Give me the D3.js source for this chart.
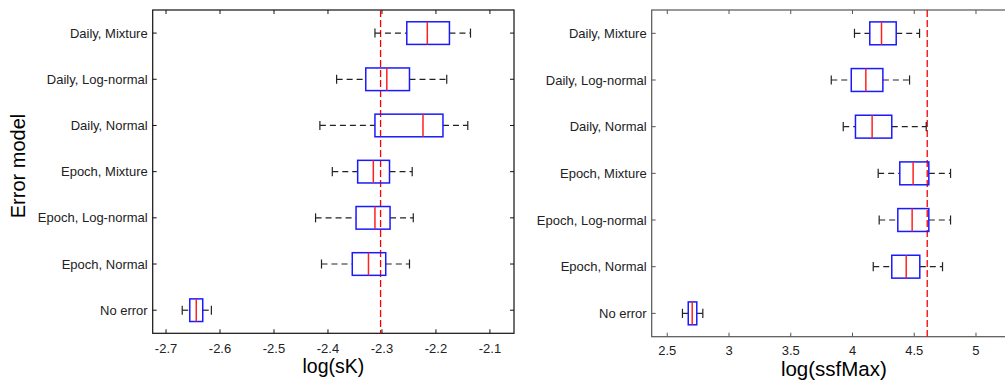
<!DOCTYPE html>
<html>
<head>
<meta charset="utf-8">
<script src="https://cdn.jsdelivr.net/npm/d3@7"></script>
<style>
  body { margin: 0; background: #fff; }
  text { font-family: "Liberation Sans", Arial, sans-serif; }
</style>
</head>
<body>
<script>
// DATA
var categories = ["Daily, Mixture", "Daily, Log-normal", "Daily, Normal",
  "Epoch, Mixture", "Epoch, Log-normal", "Epoch, Normal", "No error"];

// log(sK) box stats per category
var skLow    = [-2.313, -2.384, -2.415, -2.392, -2.423, -2.412, -2.670];
var skQ1     = [-2.254, -2.330, -2.313, -2.345, -2.348, -2.355, -2.656];
var skMedian = [-2.216, -2.291, -2.224, -2.316, -2.313, -2.325, -2.644];
var skQ3     = [-2.175, -2.249, -2.187, -2.286, -2.285, -2.293, -2.632];
var skHigh   = [-2.136, -2.180, -2.141, -2.244, -2.242, -2.249, -2.616];
var skTrue = Math.log(0.1);
var skTicks = [-2.7, -2.6, -2.5, -2.4, -2.3, -2.2, -2.1];

// log(ssfMax) box stats per category
var ssfLow    = [4.016, 3.828, 3.925, 4.208, 4.216, 4.168, 2.623];
var ssfQ1     = [4.140, 3.990, 4.024, 4.383, 4.367, 4.318, 2.670];
var ssfMedian = [4.235, 4.108, 4.159, 4.491, 4.483, 4.435, 2.702];
var ssfQ3     = [4.354, 4.246, 4.318, 4.618, 4.618, 4.545, 2.739];
var ssfHigh   = [4.543, 4.462, 4.597, 4.794, 4.794, 4.729, 2.788];
var ssfTrue = Math.log(100);
var ssfTicks = [2.5, 3, 3.5, 4, 4.5, 5];

var W = 1005, H = 382;
var svg = d3.select("body").append("svg")
  .attr("width", W).attr("height", H);

function fmt(v) {
  return String(+v.toFixed(2));
}

function panel(opt) {
  var x = d3.scaleLinear().domain(opt.domain).range([opt.left, opt.right]);
  var y = d3.scalePoint().domain(categories).range([opt.top, opt.bottom]).padding(0.5);
  var g = svg.append("g");
  var bh = y.step() * 0.49;

  // axis box
  g.append("rect")
    .attr("x", opt.left).attr("y", opt.top)
    .attr("width", opt.right - opt.left).attr("height", opt.bottom - opt.top)
    .attr("fill", "none").attr("stroke", opt.axisColor).attr("stroke-width", 1.2);

  // x ticks (inward, bottom and top)
  opt.ticks.forEach(function (t) {
    g.append("line").attr("x1", x(t)).attr("x2", x(t))
      .attr("y1", opt.bottom).attr("y2", opt.bottom - 4)
      .attr("stroke", opt.axisColor);
    g.append("line").attr("x1", x(t)).attr("x2", x(t))
      .attr("y1", opt.top).attr("y2", opt.top + 4)
      .attr("stroke", opt.axisColor);
    g.append("text").attr("x", x(t)).attr("y", opt.tickY)
      .attr("text-anchor", "middle").attr("font-size", 13).attr("fill", "#222")
      .text(fmt(t));
  });

  // y ticks and labels
  categories.forEach(function (c) {
    g.append("line").attr("x1", opt.left).attr("x2", opt.left + 4)
      .attr("y1", y(c)).attr("y2", y(c)).attr("stroke", opt.axisColor);
    g.append("line").attr("x1", opt.right).attr("x2", opt.right - 4)
      .attr("y1", y(c)).attr("y2", y(c)).attr("stroke", opt.axisColor);
    g.append("text").attr("x", opt.left - 5).attr("y", y(c)).attr("dy", "0.35em")
      .attr("text-anchor", "end").attr("font-size", 13).attr("fill", "#222")
      .text(c);
  });

  // reference line
  g.append("line").attr("x1", x(opt.ref)).attr("x2", x(opt.ref))
    .attr("y1", opt.top).attr("y2", opt.bottom)
    .attr("stroke", "#ff0000").attr("stroke-width", 1.3)
    .attr("stroke-dasharray", "7,3");

  // boxes
  categories.forEach(function (c, i) {
    var cy = y(c);
    var bx = g.append("g");
    // whiskers
    bx.append("line").attr("x1", x(opt.low[i])).attr("x2", x(opt.q1[i]))
      .attr("y1", cy).attr("y2", cy).attr("stroke", "#222").attr("stroke-width", 1.2)
      .attr("stroke-dasharray", "6,4");
    bx.append("line").attr("x1", x(opt.q3[i])).attr("x2", x(opt.high[i]))
      .attr("y1", cy).attr("y2", cy).attr("stroke", "#222").attr("stroke-width", 1.2)
      .attr("stroke-dasharray", "6,4");
    [opt.low[i], opt.high[i]].forEach(function (v) {
      bx.append("line").attr("x1", x(v)).attr("x2", x(v))
        .attr("y1", cy - bh * 0.2).attr("y2", cy + bh * 0.2)
        .attr("stroke", "#222").attr("stroke-width", 1.2);
    });
    bx.append("rect")
      .attr("x", x(opt.q1[i])).attr("y", cy - bh / 2)
      .attr("width", x(opt.q3[i]) - x(opt.q1[i])).attr("height", bh)
      .attr("fill", "none").attr("stroke", "#1a1aff").attr("stroke-width", 1.5);
    bx.append("line").attr("x1", x(opt.median[i])).attr("x2", x(opt.median[i]))
      .attr("y1", cy - bh / 2).attr("y2", cy + bh / 2)
      .attr("stroke", "#ff2020").attr("stroke-width", 1.5);
  });

  // x label
  g.append("text").attr("x", (opt.left + opt.right) / 2).attr("y", opt.labelY)
    .attr("text-anchor", "middle").attr("font-size", opt.labelSize).attr("fill", "#000")
    .text(opt.label);
}

panel({
  left: 152.7, right: 514, top: 10, bottom: 333.3,
  domain: [-2.7247, -2.0554], ticks: skTicks, ref: skTrue,
  low: skLow, q1: skQ1, median: skMedian, q3: skQ3, high: skHigh,
  axisColor: "#111", tickY: 353, labelY: 373, labelSize: 19.5, label: "log(sK)"
});

panel({
  left: 651.7, right: 1016, top: 10, bottom: 336.7,
  domain: [2.374, 5.324], ticks: ssfTicks, ref: ssfTrue,
  low: ssfLow, q1: ssfQ1, median: ssfMedian, q3: ssfQ3, high: ssfHigh,
  axisColor: "#555", tickY: 355, labelY: 376, labelSize: 20.5, label: "log(ssfMax)"
});

// y label
svg.append("text")
  .attr("transform", "translate(25,166) rotate(-90)")
  .attr("text-anchor", "middle").attr("font-size", 20).attr("fill", "#000")
  .text("Error model");
</script>
</body>
</html>
